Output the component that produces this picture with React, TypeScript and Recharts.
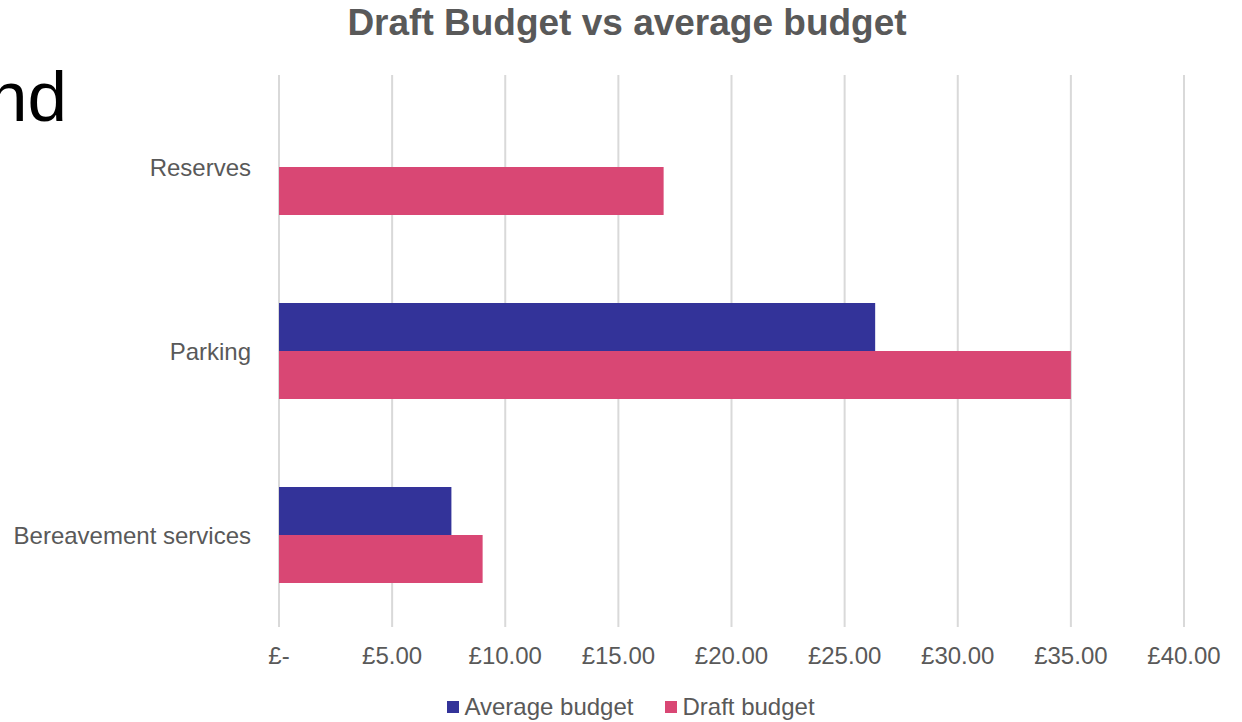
import React from "react";
import {
  Bar,
  BarChart,
  CartesianGrid,
  Legend,
  XAxis,
  YAxis,
} from "recharts";

const categories = ["Reserves", "Parking", "Bereavement services"];
const averageBudget = [0, 26.35, 7.62];
const draftBudget = [17.0, 35.0, 9.0];
const xTicks = [0, 5, 10, 15, 20, 25, 30, 35, 40];

const series = [
  { key: "average", name: "Average budget", color: "#333399" },
  { key: "draft", name: "Draft budget", color: "#D94774" },
];

const data = categories.map((name, i) => ({
  name,
  average: averageBudget[i],
  draft: draftBudget[i],
}));

const FONT = '"Liberation Sans", Arial, sans-serif';
const GREY = "#595959";

const formatPounds = (v: number): string =>
  v === 0 ? "£-" : `£${v.toFixed(2)}`;

function BudgetLegend(): React.JSX.Element {
  return (
    <div
      style={{
        display: "flex",
        justifyContent: "center",
        alignItems: "center",
        height: 30,
        gap: 32,
        fontFamily: FONT,
        fontSize: 24,
        color: GREY,
        paddingLeft: 78,
      }}
    >
      {series.map((s) => (
        <div key={s.key} style={{ display: "flex", alignItems: "center" }}>
          <span
            style={{
              width: 12,
              height: 12,
              background: s.color,
              marginRight: 5,
              display: "inline-block",
            }}
          />
          <span>{s.name}</span>
        </div>
      ))}
    </div>
  );
}

export default function App(): React.JSX.Element {
  return (
    <div
      style={{
        position: "absolute",
        left: 0,
        top: 0,
        width: 1242,
        height: 722,
        background: "#fff",
        overflow: "hidden",
        fontFamily: FONT,
      }}
    >
      {/* leftover slide text, cut off at the left edge like the reference */}
      <div
        style={{
          position: "absolute",
          right: 1242 - 67,
          top: 52,
          fontSize: 71,
          lineHeight: "90px",
          color: "#000",
          whiteSpace: "nowrap",
        }}
      >
        nd
      </div>
      <div
        style={{
          position: "absolute",
          left: 0,
          width: 1254,
          top: 2,
          textAlign: "center",
          fontSize: 37,
          lineHeight: "42px",
          fontWeight: "bold",
          color: GREY,
        }}
      >
        Draft Budget vs average budget
      </div>
      <BarChart
        width={1242}
        height={722}
        data={data}
        layout="vertical"
        margin={{ top: 75, right: 58, bottom: 0, left: 0 }}
        barGap={0}
        barSize={48}
      >
        <CartesianGrid
          horizontal={false}
          stroke="#D9D9D9"
          strokeWidth={2}
        />
        <XAxis
          type="number"
          domain={[0, 40]}
          ticks={xTicks}
          tickFormatter={formatPounds}
          axisLine={false}
          tickLine={false}
          tickSize={0}
          tickMargin={20}
          height={65}
          interval={0}
          tick={{ fill: GREY, fontSize: 24, fontFamily: FONT }}
        />
        <YAxis
          type="category"
          dataKey="name"
          width={279}
          axisLine={false}
          tickLine={false}
          tickSize={0}
          tickMargin={28}
          interval={0}
          tick={{ fill: GREY, fontSize: 24, fontFamily: FONT }}
        />
        <Legend verticalAlign="bottom" height={30} content={<BudgetLegend />} />
        {series.map((s) => (
          <Bar
            key={s.key}
            dataKey={s.key}
            name={s.name}
            fill={s.color}
            isAnimationActive={false}
          />
        ))}
      </BarChart>
    </div>
  );
}
